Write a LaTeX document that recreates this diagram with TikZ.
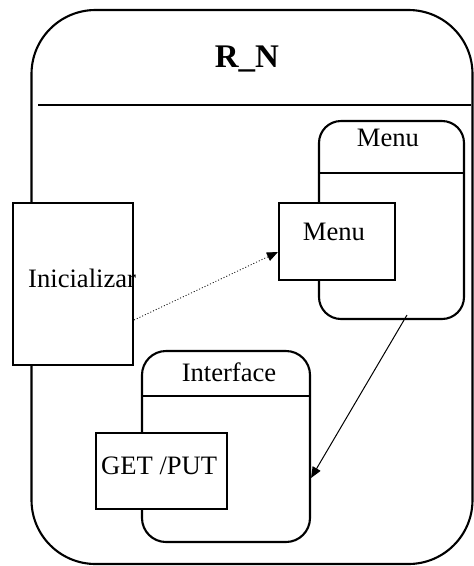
\documentclass[tikz,border=0pt]{standalone}
\usepackage{fontspec}
\setmainfont{Liberation Serif}
\usetikzlibrary{arrows.meta}
\tikzset{
  box/.style={draw, line width=2.1pt, fill=white, rectangle, inner sep=0pt},
  statebox/.style={draw, line width=2.1pt, rectangle, inner sep=0pt},
  txt/.style={inner sep=0pt, font=\fontsize{26.6}{30}\selectfont},
  conn/.style={line width=1pt, -{Triangle[length=11pt,width=9pt]}},
}
\begin{document}
\begin{tikzpicture}[x=1pt,y=-1pt]
\useasboundingbox (0,0) rectangle (474,566);
% outer state
\node[statebox, rounded corners=64pt, minimum width=441pt, minimum height=554pt] (rn) at (252,287) {};
\coordinate (hl) at (38,105);
\coordinate (hr) at (471,105);
\draw[line width=2.1pt] (hl) -- (hr);
\node[inner sep=0pt, anchor=base, font=\fontsize{33}{36}\selectfont\bfseries] (rnt) at (247,67) {R\_N};
% Inicializar
\node[box, minimum width=120pt, minimum height=162pt] (ini) at (73,284) {};
\node[txt, anchor=base west] (init) at (28,287) {Inicializar};
% Menu state
\node[statebox, rounded corners=22pt, minimum width=145pt, minimum height=198pt] (menus) at (391.5,220) {};
\draw[line width=2.1pt] (menus.west |- 0,173) -- (menus.east |- 0,173);
\node[txt, anchor=base] (menust) at (388,146) {Menu};
\node[box, minimum width=116pt, minimum height=77pt] (menub) at (337,241.5) {};
\node[txt, anchor=base] (menubt) at (334,240) {Menu};
% Interface state
\node[statebox, rounded corners=24pt, minimum width=168pt, minimum height=191pt] (ints) at (226,446.5) {};
\draw[line width=2.1pt] (ints.west |- 0,396) -- (ints.east |- 0,396);
\node[txt, anchor=base] (intst) at (229,381) {Interface};
\node[box, minimum width=131pt, minimum height=76pt] (gp) at (161.5,471) {};
\node[txt, anchor=base west] (gpt) at (101,474) {GET /PUT};
% connectors
\coordinate (a1s) at (ini.east |- 0,320);
\coordinate (a1e) at (menub.west |- 0,252);
\draw[conn, dotted, line width=0.8pt] (a1s) -- (a1e);
\coordinate (a2s) at (407,315);
\coordinate (a2e) at (ints.east |- 0,478);
\draw[conn] (a2s) -- (a2e);
\end{tikzpicture}
\end{document}
